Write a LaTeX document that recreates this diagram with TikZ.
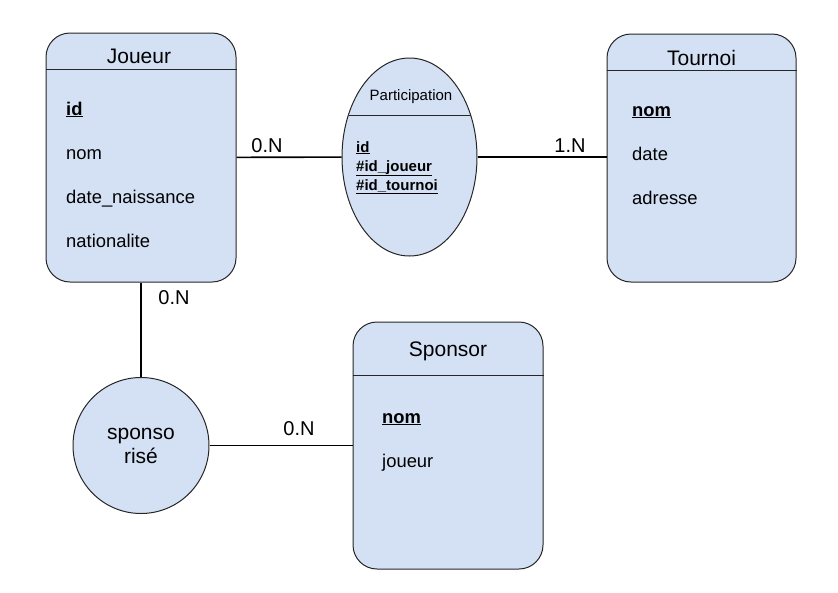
\documentclass[tikz,border=0pt]{standalone}
\usepackage{fontspec}
\setmainfont{Liberation Sans}
\usepackage{xcolor}
\usetikzlibrary{shapes,positioning,calc}
\definecolor{entityblue}{RGB}{212,225,245}

\begin{document}
\begin{tikzpicture}[
    x=1pt, y=-1pt,
    entity/.style={rectangle, draw=black!85, fill=entityblue, line width=1pt, rounded corners=24pt, minimum width=190pt, minimum height=249pt},
    assoc/.style={ellipse, draw=black!85, fill=entityblue, line width=1pt, inner sep=0pt},
    title/.style={anchor=base, inner sep=0pt, font=\fontsize{21}{25}\selectfont},
    attr/.style={anchor=base west, inner sep=0pt, font=\fontsize{18.4}{22}\selectfont},
    key/.style={anchor=base west, inner sep=0pt, font=\bfseries\fontsize{18.4}{22}\selectfont},
    small/.style={anchor=base west, inner sep=0pt, font=\bfseries\fontsize{15}{18}\selectfont},
    card/.style={anchor=base, inner sep=0pt, font=\fontsize{20}{24}\selectfont},
    link/.style={draw, line width=1.6pt}
]
\useasboundingbox (0,0) rectangle (838,592);

% Entities
\node[entity] (joueur) at (141,157.5) {};
\node[entity, minimum width=189pt, minimum height=248pt] (tournoi) at (701.5,158) {};
\node[entity, minimum height=247pt] (sponsor) at (448,445.5) {};

\draw[draw=black!85, line width=1pt] ([yshift=-37pt]joueur.north west) -- ([yshift=-37pt]joueur.north east);
\draw[draw=black!85, line width=1pt] ([yshift=-37pt]tournoi.north west) -- ([yshift=-37pt]tournoi.north east);
\draw[draw=black!85, line width=1pt] ([yshift=-54pt]sponsor.north west) -- ([yshift=-54pt]sponsor.north east);

\node[title] (joueur-t) at (139,63) {Joueur};
\node[key] (joueur-id) at (66,115) {\underline{id}};
\node[attr] (joueur-nom) at (66,159) {nom};
\node[attr] (joueur-dn) at (66,203) {date\_naissance};
\node[attr] (joueur-nat) at (66,247) {nationalite};

\node[title] (tournoi-t) at (701.5,65) {Tournoi};
\node[key] (tournoi-nom) at (632,116) {\underline{nom}};
\node[attr] (tournoi-date) at (632,160) {date};
\node[attr] (tournoi-adr) at (632,204) {adresse};

\node[title] (sponsor-t) at (448,356) {Sponsor};
\node[key] (sponsor-nom) at (382,423) {\underline{nom}};
\node[attr] (sponsor-j) at (382,467) {joueur};

% Associations
\node[assoc, minimum width=135pt, minimum height=198pt] (part) at (409.5,157) {};
\draw[draw=black!85, line width=1pt] ([xshift=-61pt,yshift=42pt]part.center) -- ([xshift=61pt,yshift=42pt]part.center);
\node[anchor=base, inner sep=0pt, font=\fontsize{15}{18}\selectfont] (part-t) at (411,100) {Participation};
\node[small] (part-id) at (356,152) {\underline{id}};
\node[small] (part-j) at (356,171) {\underline{\#id\_joueur}};
\node[small] (part-tn) at (356,190) {\underline{\#id\_tournoi}};

\node[circle, draw=black!85, fill=entityblue, line width=1pt, minimum size=136pt, align=center,
      font=\fontsize{21}{24}\selectfont] (spons) at (141,445.5) {sponso\\ris\'e};

% Links
\draw[link] (joueur) -- (part);
\draw[link] (part.east) -- (part.east -| tournoi.west);
\draw[link] (joueur.south -| spons.north) -- (spons.north);
\draw[link] (spons) -- (spons -| sponsor.west);

% Cardinalities
\node[card] (c1) at (267,152) {0.N};
\node[card] (c2) at (570,152) {1.N};
\node[card] (c3) at (174,304) {0.N};
\node[card] (c4) at (299,435) {0.N};

\end{tikzpicture}
\end{document}
